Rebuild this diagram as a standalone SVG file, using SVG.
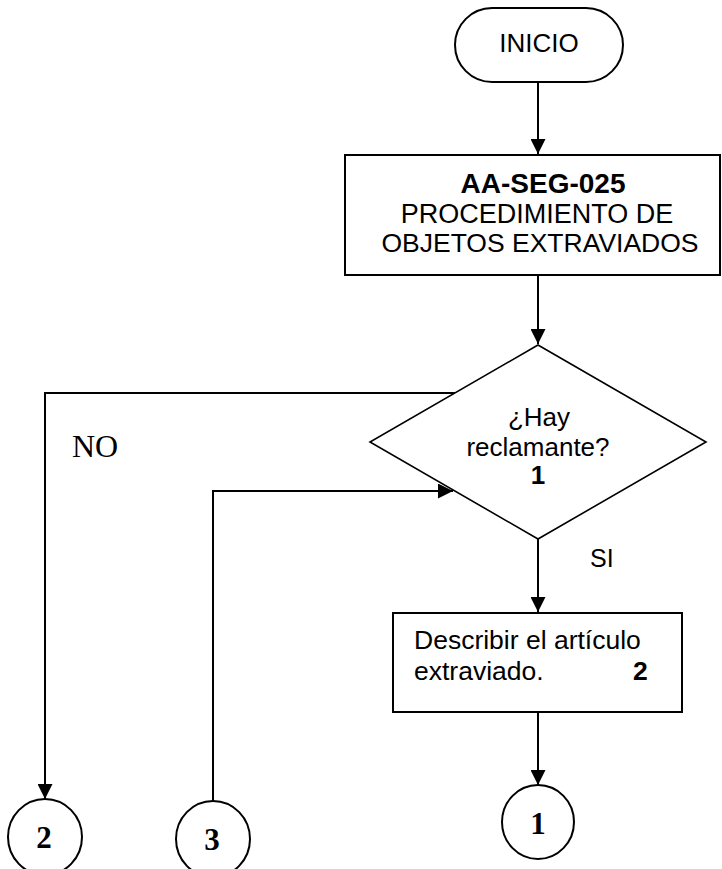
<svg xmlns="http://www.w3.org/2000/svg" width="722" height="869" viewBox="0 0 722 869">
<style>
  .shape { fill: #fff; stroke: #000; stroke-width: 2; }
  .conn { fill: none; stroke: #000; stroke-width: 2; }
  .sans { font-family: "Liberation Sans", Arial, sans-serif; fill: #000; }
  .serif { font-family: "Liberation Serif", "Times New Roman", serif; fill: #000; }
  .b { font-weight: bold; }
</style>
<defs>
  <marker id="arrow" markerUnits="userSpaceOnUse" markerWidth="15" markerHeight="15" refX="15" refY="7.5" orient="auto">
    <path d="M0,0 L15,7.5 L0,15 z" fill="#000"/>
  </marker>
</defs>
<rect width="722" height="869" fill="#fff"/>
<g id="connectors">
  <line class="conn" x1="538" y1="82" x2="538" y2="154" marker-end="url(#arrow)"/>
  <line class="conn" x1="538" y1="275" x2="538" y2="344" marker-end="url(#arrow)"/>
  <polyline class="conn" points="455,393 45,393 45,799" marker-end="url(#arrow)"/>
  <polyline class="conn" points="213,801 213,491 453,491" marker-end="url(#arrow)"/>
  <line class="conn" x1="538" y1="539" x2="538" y2="612" marker-end="url(#arrow)"/>
  <line class="conn" x1="538" y1="712" x2="538" y2="785" marker-end="url(#arrow)"/>
</g>
<g id="inicio">
  <rect class="shape" x="455" y="8" width="168" height="74" rx="37" ry="37"/>
  <text class="sans" x="539" y="52" font-size="26" text-anchor="middle">INICIO</text>
</g>
<g id="procedimiento">
  <rect class="shape" x="345" y="155" width="375" height="120"/>
  <text class="sans b" x="543" y="193" font-size="28" text-anchor="middle">AA-SEG-025</text>
  <text class="sans" x="537" y="223" font-size="27" text-anchor="middle">PROCEDIMIENTO DE</text>
  <text class="sans" x="540" y="252" font-size="26.5" text-anchor="middle">OBJETOS EXTRAVIADOS</text>
</g>
<g id="decision">
  <polygon class="shape" points="538,345 706,442 538,539 370,442" style="stroke-width:1.6"/>
  <text class="sans" x="539" y="426" font-size="26" text-anchor="middle">¿Hay</text>
  <text class="sans" x="538" y="456" font-size="26" text-anchor="middle">reclamante?</text>
  <text class="sans b" x="538" y="484" font-size="26" text-anchor="middle">1</text>
</g>
<g id="label-no">
  <text class="serif" x="72" y="457" font-size="32">NO</text>
</g>
<g id="label-si">
  <text class="sans" x="590" y="567" font-size="25">SI</text>
</g>
<g id="describir">
  <rect class="shape" x="393" y="613" width="289" height="99"/>
  <text class="sans" x="414" y="649" font-size="26.5">Describir el artículo</text>
  <text class="sans" x="414" y="680" font-size="26.5">extraviado.</text>
  <text class="sans b" x="633" y="680" font-size="26.5">2</text>
</g>
<g id="conector-1">
  <ellipse class="shape" cx="538" cy="822" rx="36" ry="37"/>
  <text class="serif b" x="538" y="834" font-size="31" text-anchor="middle">1</text>
</g>
<g id="conector-2">
  <ellipse class="shape" cx="45" cy="837" rx="37" ry="38"/>
  <text class="serif b" x="44" y="848" font-size="31" text-anchor="middle">2</text>
</g>
<g id="conector-3">
  <ellipse class="shape" cx="213" cy="839" rx="37" ry="38"/>
  <text class="serif b" x="212" y="850" font-size="31" text-anchor="middle">3</text>
</g>
</svg>
